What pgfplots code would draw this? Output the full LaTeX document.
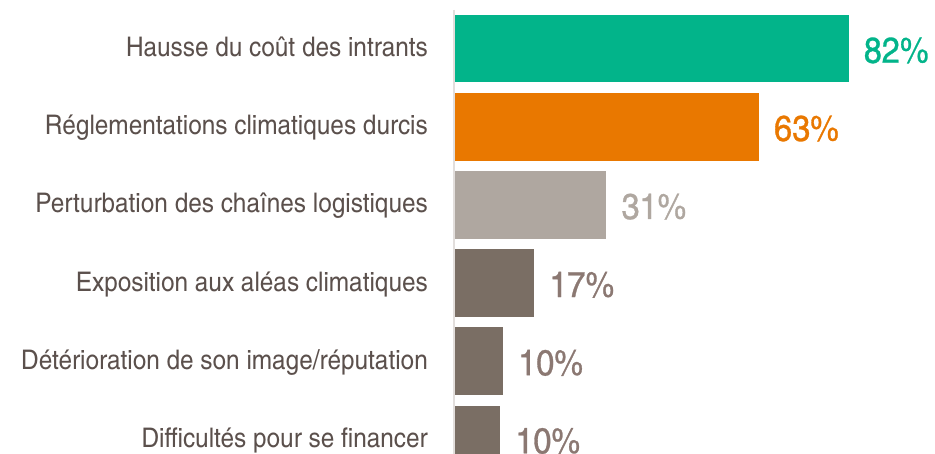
\documentclass[border=0pt]{standalone}
\usepackage{pgfplots}
\pgfplotsset{compat=1.18}
\usepackage{fontspec}
\setmainfont{TeX Gyre Heros Cn}[FakeStretch=1.1]
\newfontfamily\valfont{TeX Gyre Heros Cn}[FakeStretch=1.1, FakeBold=0.8]
\definecolor{cteal}{HTML}{02B48A}
\definecolor{corange}{HTML}{E97800}
\definecolor{clight}{HTML}{AFA7A0}
\definecolor{cdark}{HTML}{7A6E64}
\definecolor{cdarklab}{HTML}{8B7872}
\definecolor{ctext}{HTML}{5B504C}
\definecolor{caxis}{HTML}{E2DEDC}
\begin{document}
\begin{tikzpicture}
\useasboundingbox (0,0) rectangle (935pt,454pt);
\begin{axis}[
  at={(454pt,444pt)}, anchor=north west,
  width=481pt, height=444pt, scale only axis,
  xmin=-0.2, xmax=100,
  ymin=-0.496, ymax=5.188, y dir=reverse,
  axis x line=none,
  axis y line*=left,
  y axis line style={draw=caxis, line width=1.5pt},
  xbar, bar width=67.5pt, bar shift=0pt,
  ytick={0,1,2,3,4,5},
  yticklabels={Hausse du coût des intrants, Réglementations climatiques durcis, Perturbation des chaînes logistiques, Exposition aux aléas climatiques, Détérioration de son image/réputation, Difficultés pour se financer},
  major tick length=0pt,
  yticklabel style={font=\fontsize{27}{30}\selectfont, text=ctext, anchor=base east, inner sep=0pt, xshift=-26pt, yshift=-8pt},
  point meta=explicit symbolic,
  nodes near coords,
  every node near coord/.append style={font=\valfont\fontsize{36}{40}\selectfont, anchor=base west, inner sep=0pt, xshift=15pt, yshift=-14pt},
  clip=false,
]
\addplot[fill=cteal, draw=none, every node near coord/.append style={text=cteal}] coordinates {(82,0) [82\%]};
\addplot[fill=corange, draw=none, every node near coord/.append style={text=corange}] coordinates {(63.3,1) [63\%]};
\addplot[fill=clight, draw=none, every node near coord/.append style={text=clight}] coordinates {(31.5,2) [31\%]};
\addplot[fill=cdark, draw=none, every node near coord/.append style={text=cdarklab}] coordinates {(16.5,3) [17\%]};
\addplot[fill=cdark, draw=none, every node near coord/.append style={text=cdarklab}] coordinates {(10,4) [10\%]};
\addplot[fill=cdark, draw=none, every node near coord/.append style={text=cdarklab}] coordinates {(9.4,5) [10\%]};
\end{axis}
\end{tikzpicture}
\end{document}
